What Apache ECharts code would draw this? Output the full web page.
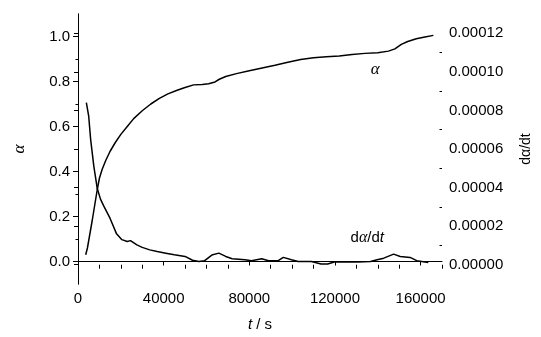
<!DOCTYPE html>
<html>
<head>
<meta charset="utf-8">
<script src="https://cdn.jsdelivr.net/npm/echarts@6/dist/echarts.min.js"></script>
<style>
  html, body { margin: 0; padding: 0; background: #fff; }
  #chart { width: 541px; height: 337px; }
</style>
</head>
<body>
<div id="chart"></div>
<script>
// conversion degree alpha vs time
const alphaTime = [3600, 4400, 5500, 6600, 7800, 9000, 10000, 11300, 13000, 15000, 17500, 20000, 23000, 26000, 30000, 34000, 38000, 42000, 46000, 50000, 54000, 58000, 61000, 64000, 66000, 69000, 74000, 80000, 86000, 92000, 98000, 104000, 110000, 116000, 122000, 128000, 134000, 140000, 145000, 148000, 151000, 154000, 158000, 162000, 166000];
const alphaValues = [0.03, 0.06, 0.12, 0.18, 0.25, 0.32, 0.37, 0.41, 0.45, 0.49, 0.53, 0.565, 0.60, 0.635, 0.67, 0.70, 0.725, 0.745, 0.76, 0.773, 0.785, 0.787, 0.79, 0.798, 0.81, 0.822, 0.835, 0.848, 0.86, 0.872, 0.886, 0.898, 0.906, 0.910, 0.913, 0.92, 0.925, 0.928, 0.935, 0.945, 0.965, 0.978, 0.99, 0.998, 1.005];

// rate dalpha/dt vs time
const rateTime = [3900, 5000, 5900, 7400, 9000, 10500, 12000, 15000, 18000, 20500, 23000, 24500, 27500, 30000, 33500, 37000, 41000, 45000, 50000, 53500, 56500, 59000, 62500, 65800, 69000, 72000, 78000, 81000, 85800, 89000, 93500, 95900, 99700, 102800, 109000, 113500, 116600, 119700, 130500, 136600, 139700, 142800, 147400, 150500, 155100, 158200, 163600];
const rateValues = [0.000084, 0.000077, 0.000065, 0.000051, 0.0000395, 0.000034, 0.0000305, 0.000024, 0.000016, 0.000013, 0.000012, 0.0000125, 0.0000103, 0.000009, 0.0000077, 0.0000068, 0.000006, 0.0000052, 0.0000043, 0.0000023, 0.0000017, 0.000002, 0.000005, 0.000006, 0.0000043, 0.0000031, 0.0000026, 0.0000021, 0.0000031, 0.0000021, 0.0000021, 0.0000038, 0.0000026, 0.0000017, 0.0000017, 0.0000004, 0.0000004, 0.0000014, 0.0000014, 0.0000017, 0.0000026, 0.0000034, 0.0000055, 0.0000043, 0.0000038, 0.0000021, 0.0000012];

// tick values
const xTicks = [0, 40000, 80000, 120000, 160000];
const xMinorTicks = [10000, 20000, 30000, 50000, 60000, 70000, 90000, 100000, 110000, 130000, 140000, 150000, 170000];
const alphaTicks = [0, 0.2, 0.4, 0.6, 0.8, 1.0];
const alphaMinorTicks = [0.1, 0.3, 0.5, 0.7, 0.9];
const rateTicks = [0, 0.00002, 0.00004, 0.00006, 0.00008, 0.0001, 0.00012];
const rateMinorTicks = [0.00001, 0.00003, 0.00005, 0.00007, 0.00009, 0.00011];

const font = 'Liberation Sans, Arial, sans-serif';
const black = '#000';

const alphaData = alphaTime.map((t, i) => [t, alphaValues[i]]);
const rateData = rateTime.map((t, i) => [t, rateValues[i]]);

const chart = echarts.init(document.getElementById('chart'));

// 坐标轴公共样式
const baseX = {
    type: 'value', min: 0, max: 170000,
    splitLine: { show: false }
};

const option = {
    backgroundColor: '#fff',
    animation: false,
    textStyle: { fontFamily: font, color: black },
    grid: { left: 78, right: 96, top: 14, bottom: 51, containLabel: false },
    xAxis: [
        Object.assign({}, baseX, {
            position: 'bottom',
            name: '{i|t} / s',
            nameLocation: 'middle',
            nameGap: 33,
            nameTextStyle: {
                fontFamily: font, fontSize: 15, color: black,
                rich: { i: { fontStyle: 'italic', fontFamily: font, fontSize: 15, color: black } }
            },
            axisLine: { lineStyle: { color: black, width: 1 } },
            axisTick: { customValues: xTicks, length: 4, lineStyle: { color: black } },
            axisLabel: { customValues: xTicks, fontFamily: font, fontSize: 15, color: black, margin: 7,
                formatter: v => String(v) }
        }),
        Object.assign({}, baseX, {
            position: 'bottom',
            axisLine: { show: false },
            axisTick: { customValues: xMinorTicks, length: 4, lineStyle: { color: black } },
            axisLabel: { show: false }
        })
    ],
    yAxis: [
        {
            type: 'value', min: -0.1, max: 1.1, position: 'left',
            name: 'α', nameLocation: 'middle', nameGap: 50, nameRotate: 90,
            nameTextStyle: { fontFamily: 'Liberation Serif, serif', fontStyle: 'italic', fontSize: 17, color: black },
            splitLine: { show: false },
            axisLine: { show: true, lineStyle: { color: black, width: 1 } },
            axisTick: { customValues: alphaTicks, length: 5, lineStyle: { color: black } },
            axisLabel: { customValues: alphaTicks, fontFamily: font, fontSize: 15, color: black, margin: 8,
                formatter: v => v.toFixed(1) }
        },
        {
            type: 'value', min: -0.00001, max: 0.00013, position: 'right',
            name: 'dα/dt', nameLocation: 'middle', nameGap: 77, nameRotate: 90,
            nameTextStyle: { fontFamily: font, fontSize: 14, color: black },
            splitLine: { show: false },
            axisLine: { show: true, lineStyle: { color: black, width: 1 } },
            axisTick: { customValues: rateTicks, inside: true, length: 4, lineStyle: { color: black } },
            axisLabel: { customValues: rateTicks, fontFamily: font, fontSize: 15, color: black, margin: 7,
                formatter: v => v.toFixed(5) }
        },
        {
            type: 'value', min: -0.1, max: 1.1, position: 'left',
            splitLine: { show: false },
            axisLine: { show: false },
            axisTick: { customValues: alphaMinorTicks, length: 2.5, lineStyle: { color: black } },
            axisLabel: { show: false }
        },
        {
            type: 'value', min: -0.00001, max: 0.00013, position: 'right',
            splitLine: { show: false },
            axisLine: { show: false },
            axisTick: { customValues: rateMinorTicks, inside: true, length: 2.5, lineStyle: { color: black } },
            axisLabel: { show: false }
        }
    ],
    series: [
        {
            name: 'alpha',
            type: 'line',
            xAxisIndex: 0,
            yAxisIndex: 0,
            data: alphaData,
            showSymbol: false,
            lineStyle: { color: black, width: 1.5 },
            markPoint: {
                symbol: 'circle', symbolSize: 0, silent: true,
                label: { show: true, formatter: 'α', fontFamily: 'Liberation Serif, serif', fontStyle: 'italic', fontSize: 17, color: black },
                data: [{ coord: [138800, 0.852] }]
            }
        },
        {
            name: 'rate',
            type: 'line',
            xAxisIndex: 0,
            yAxisIndex: 1,
            data: rateData,
            showSymbol: false,
            lineStyle: { color: black, width: 1.5 },
            markPoint: {
                symbol: 'circle', symbolSize: 0, silent: true,
                label: {
                    show: true, formatter: 'd{a|α}/d{i|t}', fontFamily: font, fontSize: 15, color: black,
                    rich: {
                        a: { fontFamily: 'Liberation Serif, serif', fontStyle: 'italic', fontSize: 16, color: black },
                        i: { fontFamily: font, fontStyle: 'italic', fontSize: 15, color: black }
                    }
                },
                data: [{ coord: [135100, 0.0000137] }]
            }
        }
    ]
};

chart.setOption(option);
</script>
</body>
</html>
